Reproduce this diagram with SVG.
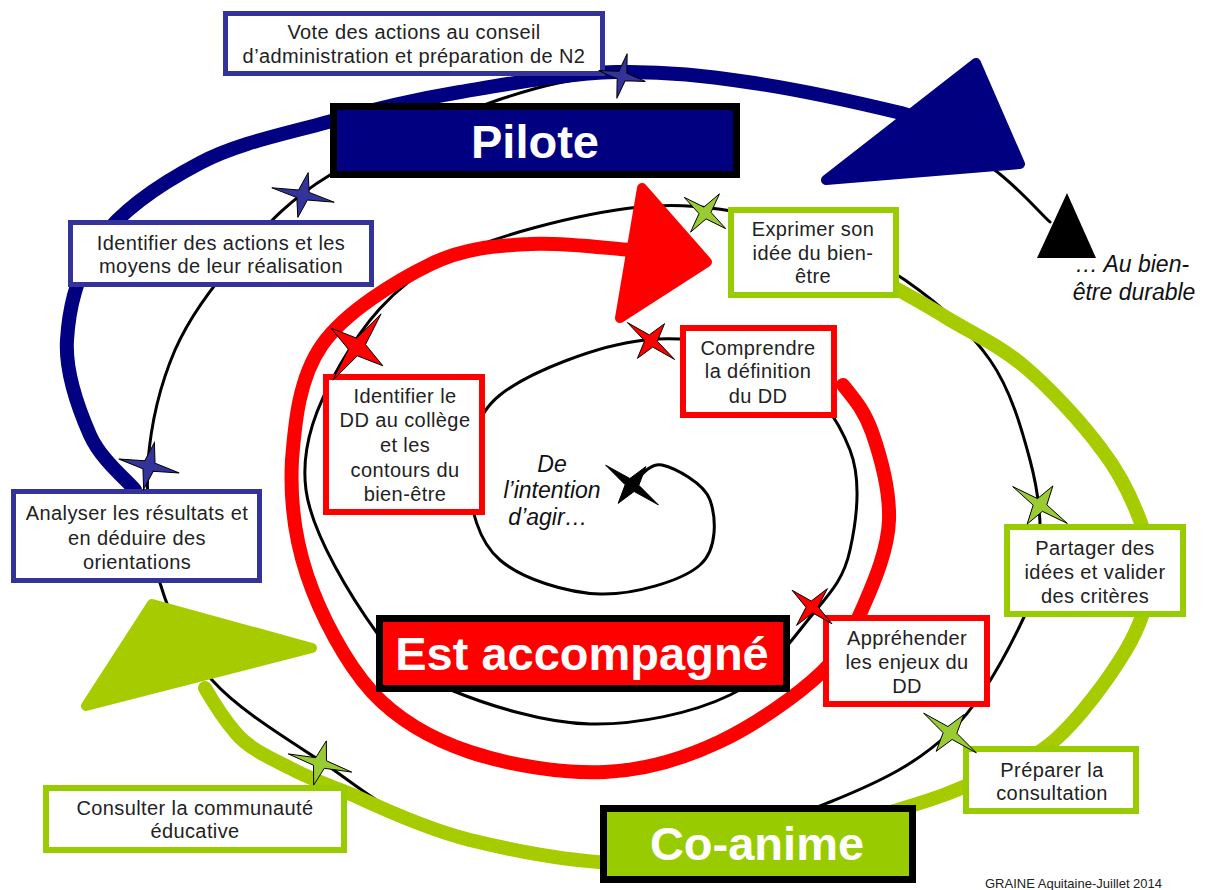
<svg xmlns="http://www.w3.org/2000/svg" xmlns:xlink="http://www.w3.org/1999/xlink" width="1211" height="890" viewBox="0 0 1211 890">
<defs>
<style>
.spiral{fill:none;stroke:#000;stroke-width:3;stroke-linecap:round}
.arc{fill:none;stroke-width:14;stroke-linecap:round;stroke-linejoin:round}
.head{stroke-width:10;stroke-linejoin:round}
.box{fill:#fff}
.bb{stroke:#333399;stroke-width:5}
.gb{stroke:#99cc00;stroke-width:6}
.rb{stroke:#ff0000;stroke-width:6}
.big{stroke:#000;stroke-width:7}
.t{font-family:"Liberation Sans",Arial,sans-serif;font-size:20px;letter-spacing:0.4px;fill:#222;text-anchor:middle}
.bt{font-family:"Liberation Sans",Arial,sans-serif;font-size:47px;font-weight:bold;fill:#fff;text-anchor:middle}
.it{font-family:"Liberation Sans",Arial,sans-serif;font-size:23px;font-style:italic;fill:#111;text-anchor:middle}
.st{stroke:#000}
.sb{fill:#333399}.sg{fill:#99cc33}.sr{fill:#ff0000}.sk{fill:#000}
</style>
<path id="star" vector-effect="non-scaling-stroke" stroke-width="1" d="M0,-1 L0.17,-0.17 L1,0 L0.17,0.17 L0,1 L-0.17,0.17 L-1,0 L-0.17,-0.17 Z"/>
</defs>
<rect width="1211" height="890" fill="#fff"/>

<g id="connectors">
<path id="spiral" class="spiral" d="M633,484 C638,480 649,462 662,465 C675,468 704,483 710,500 C716,517 718,549 700,565 C682,581 633,595 600,594 C567,593 522,579 500,560 C478,541 470,508 470,480 C470,453 471,418 500,395 C529,372 598,345 645,340 C692,335 746,347 780,365 C814,383 838,419 850,450 C862,481 856,523 850,550 C844,578 832,591 812,615 C792,639 767,677 730,695 C693,713 637,725 590,724 C544,723 487,705 451,690 C416,675 401,666 377,633 C353,600 312,535 306,490 C300,445 318,403 340,365 C362,327 390,288 440,262 C490,236 582,213 640,207 C698,201 746,213 790,225 C834,237 872,258 905,280 C938,303 969,330 990,360 C1011,390 1022,430 1030,460 C1038,490 1041,514 1040,540 C1039,566 1040,583 1025,615 C1010,647 983,701 950,732 C918,763 882,781 830,802 C778,823 705,853 640,858 C575,863 493,846 440,830 C387,814 360,787 322,762 C284,737 239,710 212,680 C185,650 171,619 160,583 C149,547 146,501 148,462 C151,423 160,385 175,350 C190,316 214,284 240,255 C266,226 287,201 330,175 C373,149 450,117 498,100 C546,84 574,78 617,76 C660,74 707,79 754,86 C801,93 861,103 901,117 C941,131 967,151 992,168 C1017,186 1040,213 1050,222"/>
<polygon id="end-triangle" points="1067,193 1096,258 1037,258" fill="#000"/>

<path id="blue-arc" class="arc" stroke="#000080" d="M135,490 C128,481 101,460 90,435 C79,410 65,372 67,340 C69,307 78,270 100,240 C122,210 162,183 200,163 C238,143 285,134 328,122 C371,110 412,100 460,92 C508,84 568,73 617,72 C666,71 707,76 754,83 C801,90 872,106 901,113 C915,117 928,122 940,127"/>
<polygon id="blue-head" class="head" fill="#000080" stroke="#000080" points="976,63 1020,164 826,180"/>

<path id="red-arc" class="arc" stroke="#ff0000" d="M843,385 C855,400 864,410 872,432 C880,455 890,491 889,520 C888,549 875,580 864,605 C853,630 846,649 822,672 C798,695 755,725 719,742 C683,759 646,770 605,772 C563,774 509,765 470,752 C431,739 399,721 372,692 C345,662 320,614 307,575 C294,536 290,498 292,460 C295,422 299,378 322,345 C345,312 396,281 431,264 C466,247 497,246 530,244 C563,242 612,249 632,250"/>
<polygon id="red-head" class="head" fill="#ff0000" stroke="#ff0000" points="642,188 707,262 620,318"/>

<path id="green-arc" class="arc" stroke="#a6cc00" d="M890,285 C900,291 925,304 947,318 C970,332 999,345 1025,367 C1051,389 1083,424 1102,450 C1122,476 1133,501 1141,523 C1149,545 1153,559 1150,580 C1148,601 1142,623 1126,650 C1110,677 1080,718 1055,740 C1030,762 1000,771 975,782 C950,793 940,797 904,808 C868,819 808,841 760,850 C712,859 663,865 615,863 C567,861 515,851 470,840 C430,830 385,810 353,795 C330,786 308,778 290,768 C268,757 248,748 235,732 C222,717 212,700 205,688"/>
<polygon id="green-head" class="head" fill="#a6cc00" stroke="#a6cc00" points="152,604 312,648 86,706"/>
</g>

<g id="node-vote"><rect class="box bb" x="225.5" y="13.5" width="377" height="60"/>
<text class="t" x="414" y="39">Vote des actions au conseil</text>
<text class="t" x="414" y="63">d’administration et préparation de N2</text></g>

<g id="node-pilote"><rect class="big" fill="#000080" x="333.5" y="106.5" width="403" height="68"/>
<text class="bt" x="535" y="158">Pilote</text></g>

<g id="node-identifier-actions"><rect class="box bb" x="70.5" y="222.5" width="301" height="62"/>
<text class="t" x="221" y="250">Identifier des actions et les</text>
<text class="t" x="221" y="273">moyens de leur réalisation</text></g>

<g id="node-analyser"><rect class="box bb" x="13.5" y="491.5" width="246" height="89"/>
<text class="t" x="137" y="520">Analyser les résultats et</text>
<text class="t" x="137" y="545">en déduire des</text>
<text class="t" x="137" y="569">orientations</text></g>

<g id="node-exprimer"><rect class="box gb" x="731" y="210" width="165" height="85"/>
<text class="t" x="813" y="236">Exprimer son</text>
<text class="t" x="813" y="260">idée du bien-</text>
<text class="t" x="813" y="283">être</text></g>

<g id="node-comprendre"><rect class="box rb" x="683" y="328" width="151" height="87"/>
<text class="t" x="758" y="355">Comprendre</text>
<text class="t" x="758" y="378">la définition</text>
<text class="t" x="758" y="403">du DD</text></g>

<g id="node-identifier-dd"><rect class="box rb" x="326" y="377" width="156" height="135"/>
<text class="t" x="405" y="403">Identifier le</text>
<text class="t" x="405" y="427">DD au collège</text>
<text class="t" x="405" y="452">et les</text>
<text class="t" x="405" y="477">contours du</text>
<text class="t" x="405" y="501">bien-être</text></g>

<g id="node-partager"><rect class="box gb" x="1007" y="527" width="176" height="87"/>
<text class="t" x="1095" y="555">Partager des</text>
<text class="t" x="1095" y="579">idées et valider</text>
<text class="t" x="1095" y="603">des critères</text></g>

<g id="node-apprehender"><rect class="box rb" x="826" y="618" width="161" height="86"/>
<text class="t" x="907" y="645">Appréhender</text>
<text class="t" x="907" y="669">les enjeux du</text>
<text class="t" x="907" y="693">DD</text></g>

<g id="node-preparer"><rect class="box gb" x="966" y="749" width="170" height="62"/>
<text class="t" x="1052" y="777">Préparer la</text>
<text class="t" x="1052" y="800">consultation</text></g>

<g id="node-consulter"><rect class="box gb" x="46" y="788" width="298" height="62"/>
<text class="t" x="195" y="815">Consulter la communauté</text>
<text class="t" x="195" y="838">éducative</text></g>

<g id="node-accompagne"><rect class="big" fill="#ff0000" x="379.5" y="618.5" width="407" height="70"/>
<text class="bt" x="582" y="670">Est accompagné</text></g>

<g id="node-coanime"><rect class="big" fill="#99cc00" x="603.5" y="808.5" width="309" height="71"/>
<text class="bt" x="757" y="860">Co-anime</text></g>

<g id="node-start">
<text class="it" x="552" y="472">De</text>
<text class="it" x="552" y="498">l’intention</text>
<text class="it" x="548" y="525">d’agir…</text></g>

<g id="node-end">
<text class="it" x="1132" y="272">… Au bien-</text>
<text class="it" x="1134" y="300">être durable</text></g>

<g id="stars">
<use href="#star" class="st sb" transform="translate(622,76) rotate(13) scale(24,23)"/>
<use href="#star" class="st sb" transform="translate(303,195) rotate(13) scale(32,23)"/>
<use href="#star" class="st sb" transform="translate(149,466) rotate(13) scale(31,24)"/>
<use href="#star" class="st sg" transform="translate(705,213) rotate(37) scale(26,24)"/>
<use href="#star" class="st sg" transform="translate(1040,505) rotate(34) scale(33,23)"/>
<use href="#star" class="st sg" transform="translate(950,733) rotate(37) scale(33,23)"/>
<use href="#star" class="st sg" transform="translate(320,763) rotate(16) scale(33,23)"/>
<use href="#star" class="st sr" transform="translate(357,347) rotate(36) scale(32,41)"/>
<use href="#star" class="st sr" transform="translate(651,341) rotate(38) scale(30,22)"/>
<use href="#star" class="st sr" transform="translate(812,607) rotate(40) scale(26,24)"/>
<use href="#star" class="st sk" transform="translate(632,485) rotate(37) scale(33,23)"/>
</g>

<text id="credit" x="985" y="888" font-family="'Liberation Sans',Arial,sans-serif" font-size="13" fill="#222">GRAINE Aquitaine-Juillet 2014</text>
</svg>
